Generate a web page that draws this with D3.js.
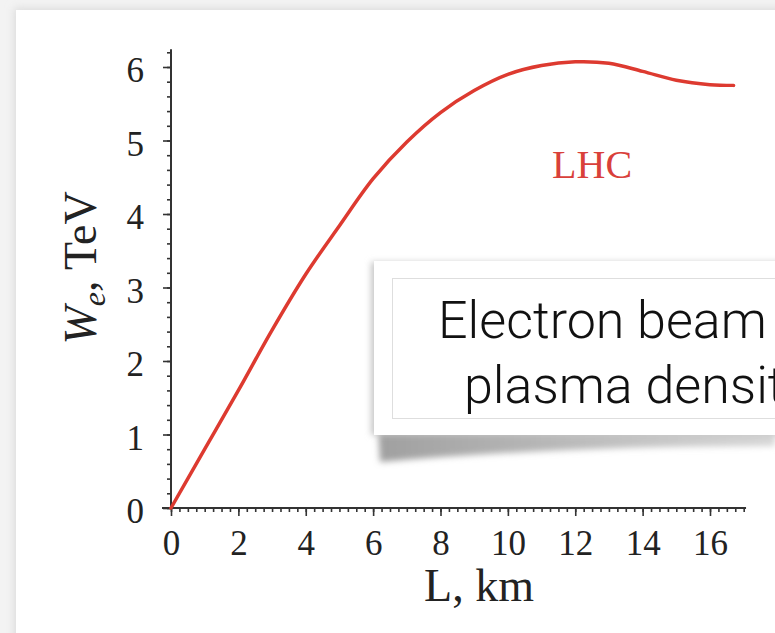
<!DOCTYPE html>
<html>
<head>
<meta charset="utf-8">
<script src="https://cdn.jsdelivr.net/npm/d3@7"></script>
<style>
  body { margin: 0; background: #f3f3f3; overflow: hidden; }
  svg { display: block; }
</style>
</head>
<body>
<div id="chart"></div>
<script>
var lengthKm  = [0, 1, 2, 3, 4, 5, 6, 7, 8, 9, 10, 11, 12, 13, 14, 15, 16, 16.7];
var energyTeV = [0, 0.8, 1.6, 2.42, 3.18, 3.84, 4.48, 4.98, 5.38, 5.68, 5.9, 6.02, 6.07, 6.05, 5.94, 5.82, 5.76, 5.75];

var xTicks = [0, 2, 4, 6, 8, 10, 12, 14, 16];
var yTicks = [0, 1, 2, 3, 4, 5, 6];
var curveName = "LHC";
var noteLines = ["Electron beam energy", "plasma density"];

function init(){
  var w = 775;
  var h = 633;

  var dataset = lengthKm.map(function(d, i){
    return { len: d, energy: energyTeV[i] };
  });

  var svg = d3.select("#chart")
    .append("svg")
    .attr("width", w)
    .attr("height", h);

  var defs = svg.append("defs");
  var soft = defs.append("filter").attr("id", "soft")
    .attr("x", "-20%").attr("y", "-20%").attr("width", "140%").attr("height", "140%");
  soft.append("feGaussianBlur").attr("stdDeviation", 4);
  var blur2 = defs.append("filter").attr("id", "blur2")
    .attr("x", "-20%").attr("y", "-50%").attr("width", "140%").attr("height", "200%");
  blur2.append("feGaussianBlur").attr("stdDeviation", 3);
  var grad = defs.append("linearGradient").attr("id", "curlShadow")
    .attr("x1", 0).attr("x2", 1).attr("y1", 0).attr("y2", 0);
  grad.append("stop").attr("offset", "0%").attr("stop-color", "#a0a0a0");
  grad.append("stop").attr("offset", "100%").attr("stop-color", "#d6d6d6");

  // page panel
  svg.append("rect").attr("x", 0).attr("y", 0).attr("width", w).attr("height", h).attr("fill", "#f3f3f3");
  svg.append("rect").attr("x", 14).attr("y", 8).attr("width", w).attr("height", h)
    .attr("fill", "#dcdcdc").attr("filter", "url(#soft)");
  svg.append("rect").attr("x", 16).attr("y", 10).attr("width", w).attr("height", h).attr("fill", "#fff");

  var xScale = d3.scaleLinear().domain([0, 16]).range([171, 710]);
  var yScale = d3.scaleLinear().domain([0, 6]).range([508, 67]);

  var xMinor = d3.range(0, 17.01, 0.25);
  var yMinor = d3.range(0, 6.21, 0.2);

  // axis lines
  svg.append("line")
    .attr("x1", xScale(0)).attr("x2", xScale(0))
    .attr("y1", yScale(0)).attr("y2", yScale(6.24))
    .attr("stroke", "#333").attr("stroke-width", 2);
  svg.append("line")
    .attr("x1", xScale(0) - 9).attr("x2", xScale(17.07))
    .attr("y1", yScale(0)).attr("y2", yScale(0))
    .attr("stroke", "#333").attr("stroke-width", 2);

  var xMinorAxis = d3.axisBottom(xScale).tickValues(xMinor).tickSize(4).tickFormat("");
  var xMajorAxis = d3.axisBottom(xScale).tickValues(xTicks).tickSize(8).tickPadding(14).tickFormat(d3.format("d"));
  var yMinorAxis = d3.axisLeft(yScale).tickValues(yMinor).tickSize(4).tickFormat("");
  var yMajorAxis = d3.axisLeft(yScale).tickValues(yTicks).tickSize(8).tickPadding(19).tickFormat(d3.format("d"));

  [xMinorAxis, xMajorAxis].forEach(function(ax){
    svg.append("g")
      .attr("class", "axis")
      .attr("transform", "translate(0," + yScale(0) + ")")
      .call(ax);
  });
  [yMinorAxis, yMajorAxis].forEach(function(ax){
    svg.append("g")
      .attr("class", "axis")
      .attr("transform", "translate(" + xScale(0) + ",0)")
      .call(ax);
  });

  svg.selectAll(".axis .domain").remove();
  svg.selectAll(".axis line").attr("stroke", "#333").attr("stroke-width", 1.6);
  svg.selectAll(".axis text")
    .attr("fill", "#222")
    .style("font-family", "'Liberation Serif', 'Times New Roman', serif")
    .style("font-size", "35px");
  svg.selectAll(".axis text").filter(function(){ return this.getAttribute("dy") === "0.32em"; })
    .attr("dy", "0.42em");

  // the curve
  var line = d3.line()
    .x(function(d){ return xScale(d.len); })
    .y(function(d){ return yScale(d.energy); })
    .curve(d3.curveCatmullRom.alpha(0.5));

  svg.append("path")
    .datum(dataset)
    .attr("fill", "none")
    .attr("stroke", "#dd3a30")
    .attr("stroke-width", 3.5)
    .attr("stroke-linecap", "round")
    .attr("d", line);

  svg.append("text")
    .attr("x", xScale(12.5)).attr("y", 178)
    .attr("text-anchor", "middle")
    .attr("fill", "#d9403a")
    .style("font-family", "'Liberation Serif', 'Times New Roman', serif")
    .style("font-size", "40px")
    .text(curveName);

  // axis titles
  svg.append("text")
    .attr("x", 479).attr("y", 601)
    .attr("text-anchor", "middle")
    .attr("fill", "#222")
    .style("font-family", "'Liberation Serif', 'Times New Roman', serif")
    .style("font-size", "46px")
    .text("L, km");

  var yTitle = svg.append("text")
    .attr("transform", "translate(96,268) rotate(-90)")
    .attr("text-anchor", "middle")
    .attr("fill", "#222")
    .style("font-family", "'Liberation Serif', 'Times New Roman', serif")
    .style("font-size", "46px");
  yTitle.append("tspan").style("font-style", "italic").text("W");
  yTitle.append("tspan").style("font-style", "italic").style("font-size", "32px").attr("dy", 9).text("e");
  yTitle.append("tspan").attr("dy", -9).text(", TeV");

  // annotation card with curled shadow
  svg.append("path")
    .attr("d", "M378,428 L775,428 L775,446 Q560,446 380,462 Z")
    .attr("fill", "url(#curlShadow)")
    .attr("filter", "url(#blur2)");
  svg.append("rect")
    .attr("x", 371).attr("y", 262).attr("width", 420).attr("height", 173)
    .attr("fill", "#c8c8c8").attr("filter", "url(#blur2)");
  svg.append("rect")
    .attr("x", 374).attr("y", 261).attr("width", 420).attr("height", 174)
    .attr("fill", "#fff");
  svg.append("rect")
    .attr("x", 392.5).attr("y", 278.5).attr("width", 420).attr("height", 140)
    .attr("fill", "none").attr("stroke", "#dedede").attr("stroke-width", 1);

  svg.append("text")
    .attr("x", 438).attr("y", 338)
    .attr("fill", "#111")
    .style("font-family", "Roboto, 'Open Sans', sans-serif")
    .style("font-weight", 300)
    .style("font-size", "52px")
    .text(noteLines[0]);
  svg.append("text")
    .attr("x", 464).attr("y", 403)
    .attr("fill", "#111")
    .style("font-family", "Roboto, 'Open Sans', sans-serif")
    .style("font-weight", 300)
    .style("font-size", "52px")
    .text(noteLines[1]);
}

window.onload = init;
</script>
</body>
</html>
